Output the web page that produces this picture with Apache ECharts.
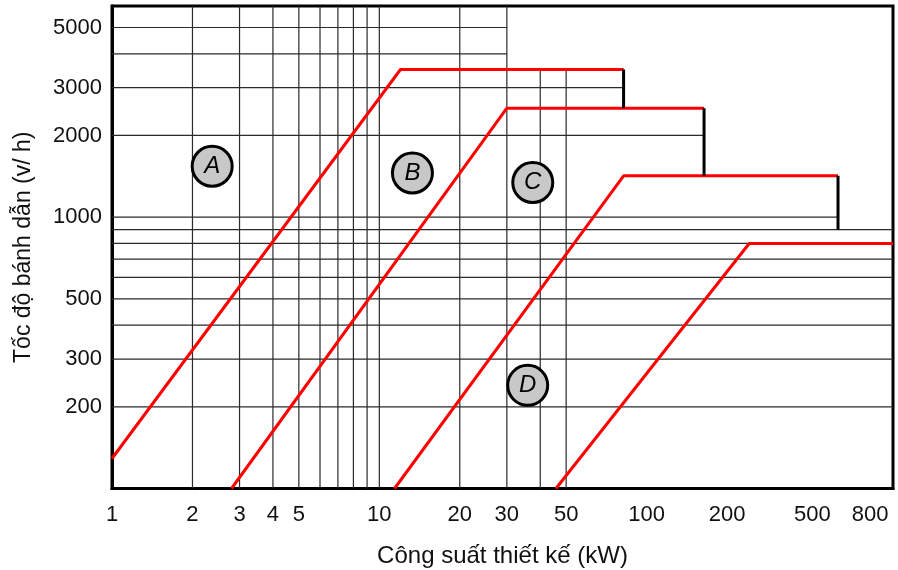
<!DOCTYPE html>
<html><head><meta charset="utf-8">
<script src="https://cdn.jsdelivr.net/npm/echarts@6/dist/echarts.min.js"></script>
<style>html,body{margin:0;padding:0;background:#fff}#c{width:898px;height:570px}</style>
</head><body><div id="c"></div>
<script>
// ---- data ----
const xTickLabels = [1, 2, 3, 4, 5, 10, 20, 30, 50, 100, 200, 500, 800];
const yTickLabels = [200, 300, 500, 1000, 2000, 3000, 5000];
const xGridValues = [2, 3, 4, 5, 6, 7, 8, 9, 10, 20, 30, 40, 50];
const yGridValues = [200, 300, 400, 500, 600, 700, 800, 900, 1000, 2000, 3000, 4000, 5000];
const zoneNames = ['A', 'B', 'C', 'D'];
const zoneA_kw = [1, 12, 82];      const zoneA_rpm = [129, 3500, 3500];
const zoneB_kw = [2.8, 30, 164];   const zoneB_rpm = [100, 2520, 2520];
const zoneC_kw = [11.4, 82, 520];  const zoneC_rpm = [100, 1420, 1420];
const zoneD_kw = [45.8, 242, 835]; const zoneD_rpm = [100, 800, 800];
const limitKw = [82, 164, 520];
const limitRpmTop = [3500, 2520, 1420];
const limitRpmBottom = [2520, 1420, 900];
const labelKw = [2.37, 13.3, 37.5, 35.9];
const labelRpm = [1540, 1455, 1342, 240];
const xMin = 1, xMax = 835, yMin = 100, yMax = 6000;

// ---- build ----
const FONT = '"Liberation Sans", Arial, sans-serif';
const TXT = '#111';
const zoneKw = [zoneA_kw, zoneB_kw, zoneC_kw, zoneD_kw];
const zoneRpm = [zoneA_rpm, zoneB_rpm, zoneC_rpm, zoneD_rpm];
const lastFullX = 30;

const series = [];
function gridSeries(pts) {
  return { type: 'line', data: pts, symbol: 'none', silent: true, z: 1,
    lineStyle: { color: '#2a2a2a', width: 1.2 }, animation: false };
}
xGridValues.forEach(v => {
  const top = v <= lastFullX ? yMax : zoneA_rpm[2];
  series.push(gridSeries([[v, yMin], [v, top]]));
});
yGridValues.forEach(v => {
  let end = xMax;
  if (v > limitRpmTop[0]) end = lastFullX;
  else {
    for (let i = 0; i < limitKw.length; i++) {
      if (v > limitRpmBottom[i] && v <= limitRpmTop[i]) { end = limitKw[i]; break; }
    }
  }
  series.push(gridSeries([[xMin, v], [end, v]]));
});
zoneKw.forEach((kw, i) => {
  series.push({ type: 'line', name: zoneNames[i], data: kw.map((x, j) => [x, zoneRpm[i][j]]),
    symbol: 'none', silent: true, z: 3, lineStyle: { color: '#ff0000', width: 3 }, animation: false });
});
limitKw.forEach((x, i) => {
  series.push({ type: 'line', data: [[x, limitRpmTop[i]], [x, limitRpmBottom[i]]],
    symbol: 'none', silent: true, z: 4, lineStyle: { color: '#000', width: 3 }, animation: false });
});
series.push({ type: 'scatter', z: 5, symbol: 'circle', symbolSize: 40, silent: true, animation: false,
  data: labelKw.map((x, i) => ({ value: [x, labelRpm[i]], name: zoneNames[i] })),
  itemStyle: { color: '#c8c8c8', borderColor: '#000', borderWidth: 3, opacity: 1 },
  label: { show: true, position: 'inside', formatter: p => p.name, fontSize: 24, fontStyle: 'italic',
    color: '#000', fontFamily: FONT } });

const chart = echarts.init(document.getElementById('c'), null, { renderer: 'canvas' });
chart.setOption({
  backgroundColor: '#fff',
  animation: false,
  grid: { left: 112, right: 5, top: 6, bottom: 81.5, show: true, borderColor: '#000', borderWidth: 3,
    backgroundColor: 'transparent', containLabel: false, outerBoundsMode: 'none' },
  xAxis: {
    type: 'log', logBase: 10, min: xMin, max: xMax,
    name: 'Công suất thiết kế (kW)', nameLocation: 'middle', nameGap: 56,
    nameTextStyle: { fontSize: 24, color: TXT, fontFamily: FONT },
    axisLine: { show: true, lineStyle: { color: '#000', width: 3 } },
    axisTick: { show: false }, splitLine: { show: false }, minorSplitLine: { show: false },
    axisLabel: { customValues: xTickLabels, fontSize: 22, color: TXT, fontFamily: FONT, margin: 15,
      formatter: v => (v === 800 ? '{e|800}' : v === 500 ? '{f|500}' : String(v)),
      rich: {
        e: { fontSize: 22, color: TXT, fontFamily: FONT, padding: [0, 36, 0, 0] },
        f: { fontSize: 22, color: TXT, fontFamily: FONT, padding: [0, 42, 0, 0] }
      } }
  },
  yAxis: {
    type: 'log', logBase: 10, min: yMin, max: yMax,
    name: 'Tốc độ bánh dẫn (v/ h)', nameLocation: 'middle', nameGap: 77, nameRotate: 90,
    nameTextStyle: { fontSize: 23, color: TXT, fontFamily: FONT },
    axisLine: { show: true, lineStyle: { color: '#000', width: 3 } },
    axisTick: { show: false }, splitLine: { show: false },
    axisLabel: { customValues: yTickLabels, fontSize: 22, color: TXT, fontFamily: FONT, margin: 10,
      formatter: v => String(v) }
  },
  series: series
});
</script></body></html>
